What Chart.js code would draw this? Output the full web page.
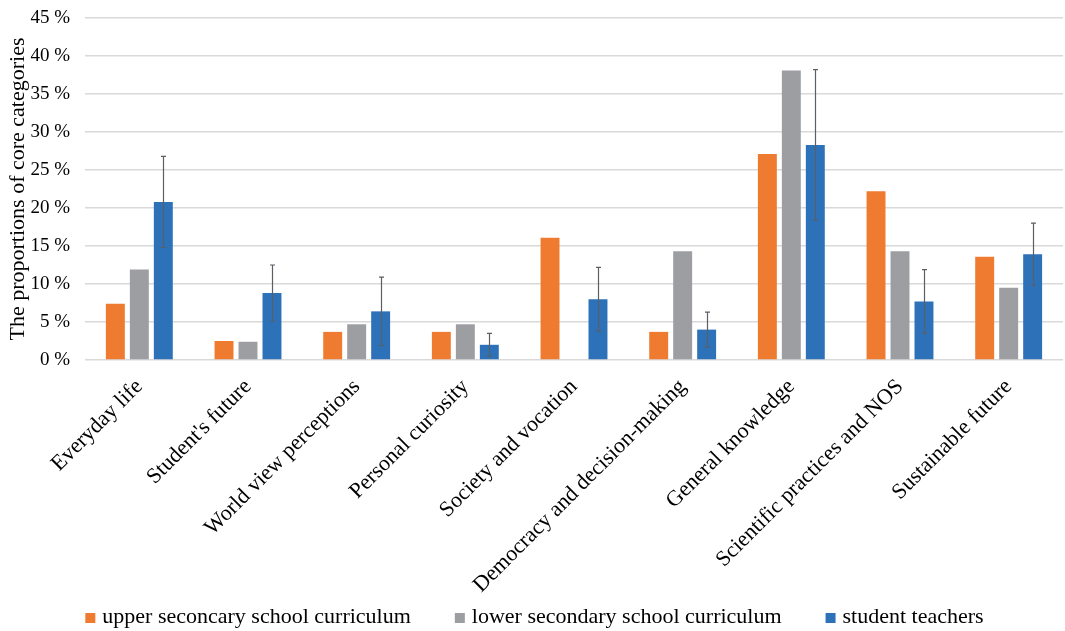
<!DOCTYPE html>
<html>
<head>
<meta charset="utf-8">
<script src="https://cdn.jsdelivr.net/npm/chart.js"></script>
<style>
  html, body { margin: 0; padding: 0; background: #ffffff; }
  #wrap { width: 1065px; height: 631px; }
</style>
</head>
<body>
<div id="wrap"><canvas id="chart" width="1065" height="631"></canvas></div>
<script>
// categories
const categories = [
    "Everyday life",
    "Student's future",
    "World view perceptions",
    "Personal curiosity",
    "Society and vocation",
    "Democracy and decision-making",
    "General knowledge",
    "Scientific practices and NOS",
    "Sustainable future"
];

// series (percent)
const upperSecondary = [7.4, 2.5, 3.7, 3.7, 16.1, 3.7, 27.1, 22.2, 13.6];
const lowerSecondary = [11.9, 2.4, 4.7, 4.7, 0, 14.3, 38.1, 14.3, 9.5];
const studentTeachers = [20.8, 8.8, 6.4, 2.0, 8.0, 4.0, 28.3, 7.7, 13.9];

// error (+/-) for student teachers
const studentErrors = [6.0, 3.7, 4.5, 1.5, 4.2, 2.3, 9.9, 4.2, 4.1];

const seriesNames = [
    "upper seconcary school curriculum",
    "lower secondary school curriculum",
    "student teachers"
];

// y ticks
const yMin = 0;
const yMax = 45;
const yStep = 5;

const FONT = "'Liberation Serif', 'Times New Roman', serif";

// -----------------------------
// error bars on the blue series
// -----------------------------
const errorBarPlugin = {
    id: "errorBars",
    afterDatasetsDraw: function (chart) {
        const meta = chart.getDatasetMeta(2);
        const yScale = chart.scales.y;
        const ctx = chart.ctx;
        ctx.save();
        ctx.strokeStyle = "#5a5f66";
        ctx.lineWidth = 1.2;
        meta.data.forEach(function (bar, i) {
            const v = studentTeachers[i];
            const e = studentErrors[i];
            const x = Math.round(bar.x) + 0.5;
            const yTop = yScale.getPixelForValue(v + e);
            const yBot = yScale.getPixelForValue(v - e);
            ctx.beginPath();
            ctx.moveTo(x, yTop);
            ctx.lineTo(x, yBot);
            ctx.moveTo(x - 2.5, yTop);
            ctx.lineTo(x + 2.5, yTop);
            ctx.moveTo(x - 2.5, yBot);
            ctx.lineTo(x + 2.5, yBot);
            ctx.stroke();
        });
        ctx.restore();
    }
};

// -----------------------------
// legend at the bottom (own drawing, wide gaps)
// -----------------------------
const bottomLegendPlugin = {
    id: "bottomLegend",
    afterDraw: function (chart) {
        const ctx = chart.ctx;
        const box = 10, gapText = 7, gapItem = 44;
        const yMid = chart.height - 14;
        ctx.save();
        ctx.font = "22px " + FONT;
        ctx.textBaseline = "middle";
        const items = chart.data.datasets.map(function (ds) {
            return { text: ds.label, color: ds.backgroundColor, w: ctx.measureText(ds.label).width };
        });
        let total = 0;
        items.forEach(function (it, i) {
            total += box + gapText + it.w + (i < items.length - 1 ? gapItem : 0);
        });
        let x = (chart.width - total) / 2 + 2;
        items.forEach(function (it) {
            ctx.fillStyle = it.color;
            ctx.fillRect(x, yMid - box / 2 + 1, box, box);
            ctx.fillStyle = "#000000";
            ctx.fillText(it.text, x + box + gapText, yMid);
            x += box + gapText + it.w + gapItem;
        });
        ctx.restore();
    }
};

new Chart(document.getElementById("chart"), {
    type: "bar",
    data: {
        labels: categories,
        datasets: [
            { label: seriesNames[0], data: upperSecondary, backgroundColor: "#ee7b30" },
            { label: seriesNames[1], data: lowerSecondary, backgroundColor: "#9d9ea2" },
            { label: seriesNames[2], data: studentTeachers, backgroundColor: "#2d72b8" }
        ]
    },
    options: {
        responsive: false,
        animation: false,
        layout: {
            padding: { top: 18, right: 2, left: 5, bottom: 36 }
        },
        datasets: {
            bar: {
                categoryPercentage: 0.662,
                barPercentage: 0.79,
                borderWidth: 0
            }
        },
        scales: {
            x: {
                grid: { display: false },
                border: { display: false },
                afterFit: function (s) { s.height = 235; },
                ticks: {
                    autoSkip: false,
                    maxRotation: 45,
                    minRotation: 45,
                    color: "#000000",
                    padding: 6,
                    font: { family: FONT, size: 22 }
                }
            },
            y: {
                min: yMin,
                max: yMax,
                grid: { color: "#d9d9d9", lineWidth: 1.5, drawTicks: false },
                border: { display: false },
                afterFit: function (s) {
                    s.width = 80;
                    s.paddingTop = 0;
                    s.paddingBottom = 0;
                },
                ticks: {
                    stepSize: yStep,
                    padding: 15,
                    color: "#000000",
                    font: { family: FONT, size: 19 },
                    callback: function (v) { return v + " %"; }
                },
                title: {
                    display: true,
                    text: "The proportions of core categories",
                    color: "#000000",
                    font: { family: FONT, size: 22 },
                    padding: { top: 0, bottom: 0 }
                }
            }
        },
        plugins: {
            legend: { display: false },
            tooltip: { enabled: false }
        }
    },
    plugins: [errorBarPlugin, bottomLegendPlugin]
});
</script>
</body>
</html>
